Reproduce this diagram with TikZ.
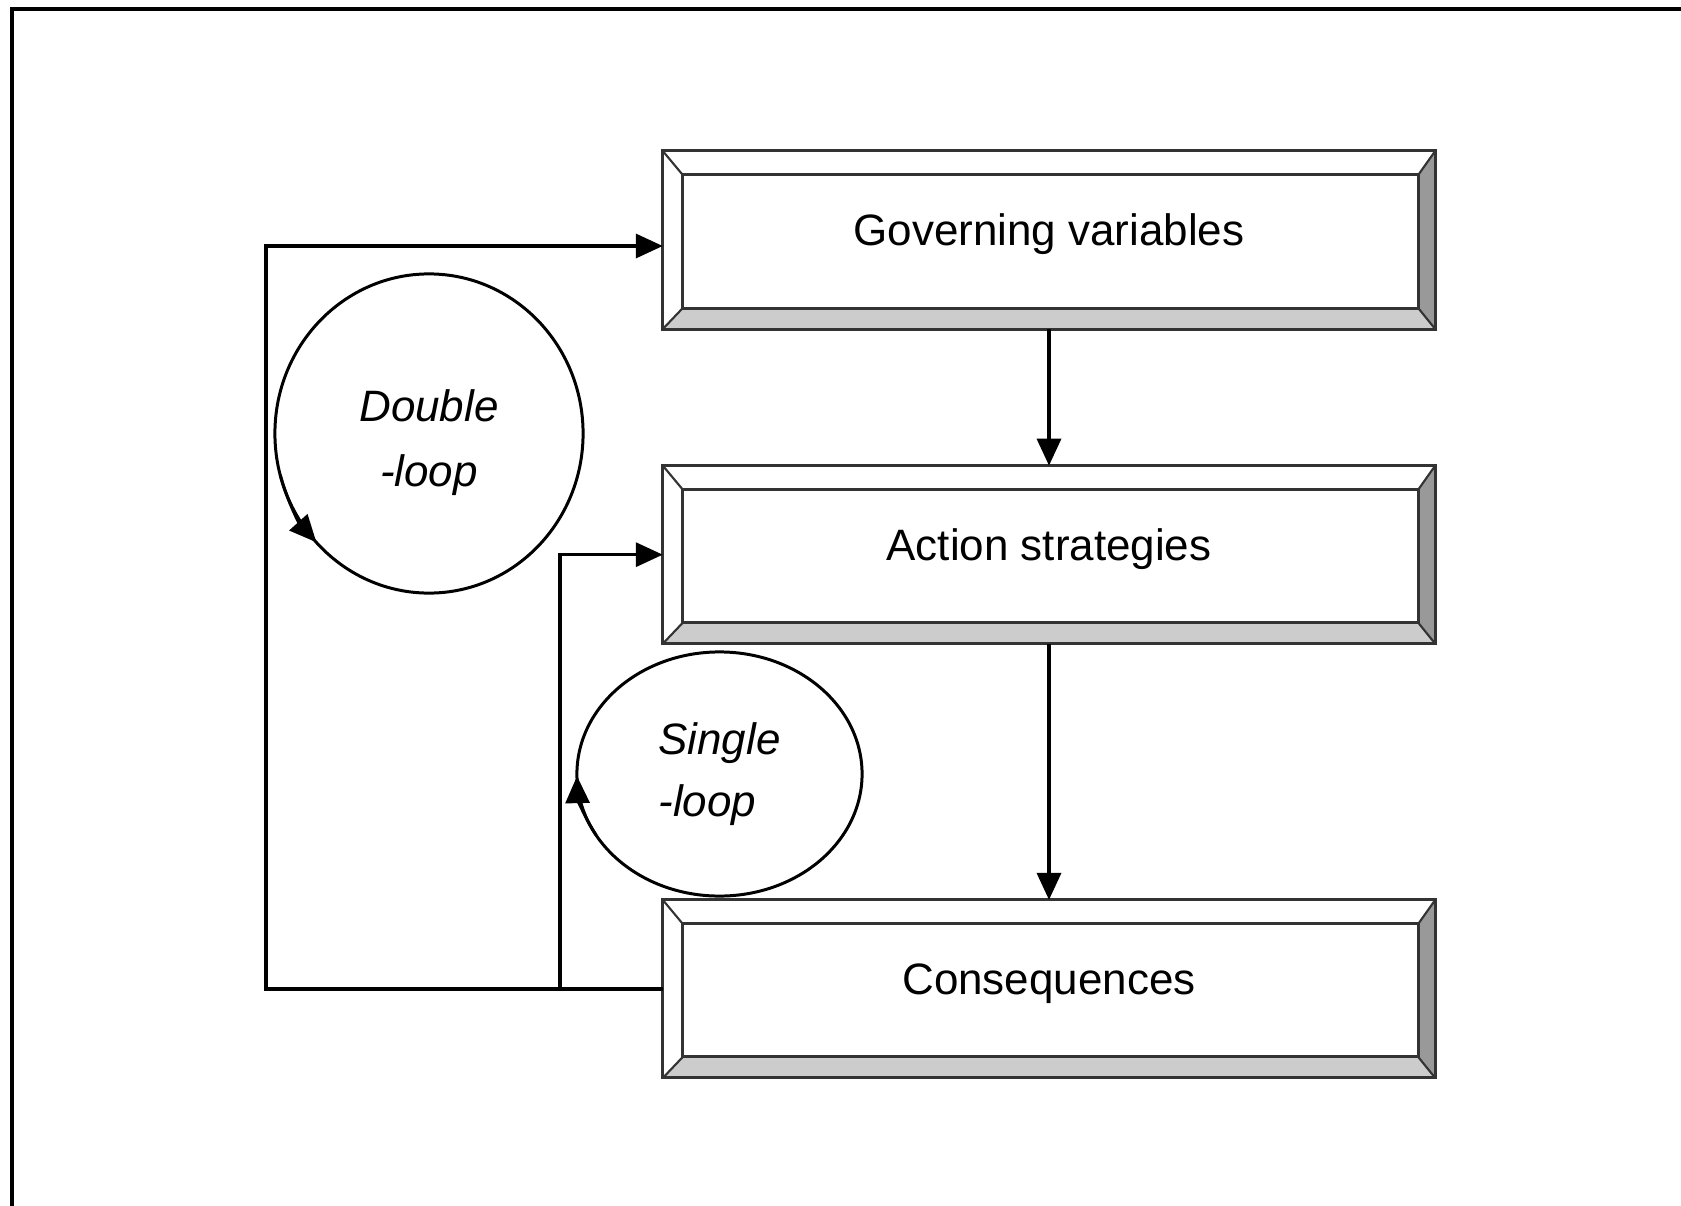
\documentclass[tikz,border=0pt]{standalone}
\usepackage{fontspec}
\setmainfont{Liberation Sans}
\usetikzlibrary{arrows.meta,shapes.geometric}

\begin{document}
\begin{tikzpicture}[x=0.01cm, y=0.01cm, line width=1pt,
  >={Triangle[length=2.7mm,width=2.4mm]},
  bevel/.style={rectangle, draw=black!80, line width=0.85pt, minimum width=7.72cm, minimum height=1.78cm,
    inner sep=0pt, outer sep=0pt, font=\fontsize{12.5}{15}\selectfont, text height=9.1pt, text depth=6pt,
    path picture={
      \path (path picture bounding box.south west) coordinate (bsw)
            (path picture bounding box.north east) coordinate (bne)
            ([shift={(20,21)}]bsw) coordinate (isw)
            ([shift={(-17,-24)}]bne) coordinate (ine);
      \fill[black!20] (bsw) -- (bne |- bsw) -- (ine |- isw) -- (isw) -- cycle;
      \fill[black!40] (bne |- bsw) -- (bne) -- (ine) -- (ine |- isw) -- cycle;
      \draw[black!80, line width=0.85pt] (isw) rectangle (ine);
      \draw[line width=0.6pt] (bsw) -- (isw) (bsw |- bne) -- (isw |- ine)
                              (bne) -- (ine) (bne |- bsw) -- (ine |- isw);
    }},
  loopname/.style={ellipse, draw, line width=0.85pt, inner sep=0pt, outer sep=0pt,
    font=\fontsize{12.5}{18.5}\selectfont\itshape}]
  \useasboundingbox (0,0) rectangle (1681,-1206);
  % frame
  \draw[line width=1.1pt] (12,-1206) -- (12,-9) -- (1681,-9);
  % boxes
  \node[bevel] (gv) at (1049,-240) {Governing variables};
  \node[bevel, below of=gv, node distance=3.145cm] (as) {Action strategies};
  \node[bevel, below of=as, node distance=4.34cm] (co) {Consequences};
  % loops
  \node[loopname, align=center, minimum width=3.08cm, minimum height=3.19cm] (dbl) at (429,-433.5) {\rule{0pt}{14.5pt}Double\\-loop};
  \node[loopname, align=left, minimum width=2.85cm, minimum height=2.44cm, font=\fontsize{12.5}{17.6}\selectfont\itshape] (sgl) at (719.5,-774) {Single\\-loop};
  \coordinate (dleft) at (266,0);
  \coordinate (sleft) at (560,0);
  \draw[->] (gv) -- (as);
  \draw[->] (as) -- (co);
  \draw[->] (co.west) -- (co.west -| dleft) |- ([yshift=-0.06cm]gv.west);
  \draw[->] (co.west -| sleft) |- (as.west);
  \draw[->, line width=0.85pt] (dbl.center) ++(195:154 and 159.5) arc[start angle=195, end angle=223, x radius=154, y radius=159.5];
  \draw[->, line width=0.85pt] (sgl.center) ++(210:142.5 and 122) arc[start angle=210, end angle=181, x radius=142.5, y radius=122];
\end{tikzpicture}
\end{document}
